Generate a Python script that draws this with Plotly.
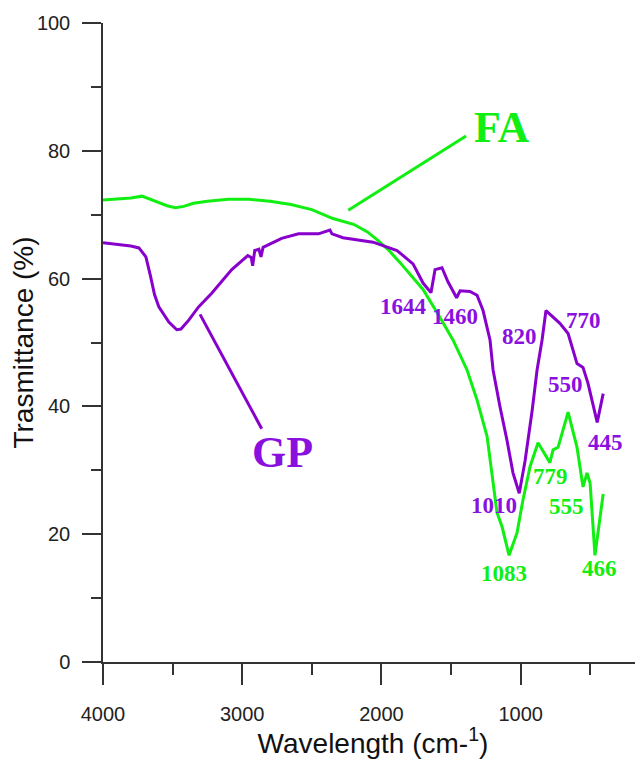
import plotly.graph_objects as go

# ---------------- data ----------------
fa_wn = [4000, 3900, 3800, 3720, 3660, 3600, 3540, 3480, 3420, 3350, 3250, 3100,
         2950, 2800, 2650, 2500, 2348, 2200, 2100, 2032, 1950, 1866, 1701, 1579,
         1486, 1385, 1313, 1241, 1198, 1170, 1134, 1083, 1026, 983, 932, 875, 790,
         767, 731, 659, 595, 552, 523, 501, 466, 407]
fa_t = [72.3, 72.5, 72.6, 72.9, 72.4, 71.9, 71.4, 71.1, 71.3, 71.8, 72.1, 72.4,
        72.4, 72.1, 71.6, 70.8, 69.4, 68.5, 67.3, 66.1, 64.5, 62.5, 58.3, 53.9,
        50.4, 45.7, 41.0, 35.3, 28.6, 23.4, 21.2, 16.7, 20.2, 25.4, 30.6, 34.3, 31.2,
        33.2, 33.6, 39.1, 33.6, 27.4, 29.6, 28.0, 16.7, 26.3]

gp_wn = [4000, 3900, 3800, 3742, 3692, 3660, 3630, 3599, 3527, 3470, 3440, 3384,
         3312, 3219, 3075, 2960, 2935, 2925, 2910, 2880, 2865, 2850, 2717, 2595,
         2452, 2370, 2355, 2276, 2060, 1888, 1773, 1701, 1644, 1615, 1565, 1522,
         1460, 1435, 1364, 1313, 1270, 1220, 1198, 1148, 1098, 1055, 1010, 968,
         917, 882, 846, 818, 775, 718, 659, 595, 552, 516, 450, 407]
gp_t = [65.6, 65.4, 65.1, 64.8, 63.4, 60.5, 57.5, 55.6, 53.2, 52.0, 52.1, 53.5,
        55.6, 57.7, 61.4, 63.6, 63.3, 62.0, 64.4, 64.6, 63.4, 64.9, 66.3, 67.0,
        67.0, 67.6, 67.0, 66.4, 65.7, 64.4, 62.3, 59.3, 57.8, 61.4, 61.7, 59.5,
        57.0, 58.1, 58.0, 57.4, 55.0, 50.4, 45.7, 39.9, 34.7, 29.6, 26.4, 31.5,
        39.4, 45.7, 50.4, 55.0, 54.2, 53.0, 51.4, 46.7, 46.1, 43.6, 37.5, 42.0]

gp_peak_labels = ["1644", "1460", "820", "770", "550", "445", "1010"]
fa_peak_labels = ["779", "555", "1083", "466"]
series_names = ["FA", "GP"]

x_ticks = [4000, 3000, 2000, 1000]
y_ticks = [0, 20, 40, 60, 80, 100]

# ---------------- styling / placement ----------------
GREEN = "#11EE11"
PURPLE = "#8800CC"
PURPLE_TXT = "#8A10E0"
AXIS = "#333333"

gp_label_pos = [(1845, 55.7), (1471, 54.1), (1011, 51.0), (550, 53.5),
                (681, 43.4), (394, 34.4), (1193, 24.5)]
fa_label_pos = [(789, 29.0), (669, 24.3), (1121, 13.9), (430, 14.7)]

fig = go.Figure()
fig.add_trace(go.Scatter(x=fa_wn, y=fa_t, mode="lines", name=series_names[0],
                         line=dict(color=GREEN, width=3)))
fig.add_trace(go.Scatter(x=gp_wn, y=gp_t, mode="lines", name=series_names[1],
                         line=dict(color=PURPLE, width=3)))

ann = []
for txt, (x, y) in zip(gp_peak_labels, gp_label_pos):
    ann.append(dict(x=x, y=y, text="<b>%s</b>" % txt, showarrow=False,
                    font=dict(family="Liberation Serif", size=23, color=PURPLE_TXT),
                    xanchor="center", yanchor="middle"))
for txt, (x, y) in zip(fa_peak_labels, fa_label_pos):
    ann.append(dict(x=x, y=y, text="<b>%s</b>" % txt, showarrow=False,
                    font=dict(family="Liberation Serif", size=23, color=GREEN),
                    xanchor="center", yanchor="middle"))
ann.append(dict(x=1134, y=83.7, text="<b>%s</b>" % series_names[0], showarrow=False,
                font=dict(family="Liberation Serif", size=44, color=GREEN),
                xanchor="center", yanchor="middle"))
ann.append(dict(x=2714, y=32.8, text="<b>%s</b>" % series_names[1], showarrow=False,
                font=dict(family="Liberation Serif", size=44, color=PURPLE_TXT),
                xanchor="center", yanchor="middle"))

shapes = [
    dict(type="line", x0=1392, y0=82.3, x1=2238, y1=70.7,
         line=dict(color=GREEN, width=3)),
    dict(type="line", x0=3303, y0=54.4, x1=2860, y1=36.5,
         line=dict(color=PURPLE, width=3)),
]

# page body adds an 8px offset, so the figure is 8px smaller than the window
fig.update_layout(
    width=635, height=751,
    margin=dict(l=95, r=0, t=15, b=97),
    paper_bgcolor="white", plot_bgcolor="white",
    showlegend=False,
    annotations=ann, shapes=shapes,
    font=dict(family="Liberation Sans", color="#222222"),
)
fig.update_xaxes(
    range=[4000, 121], tickvals=x_ticks, ticktext=[str(v) for v in x_ticks],
    automargin=False,
    showgrid=False, zeroline=False, showline=True, linecolor=AXIS, linewidth=1.5,
    ticks="outside", ticklen=21, tickwidth=1.5, tickcolor=AXIS,
    tickfont=dict(size=20, family="Liberation Sans", color="#222222"),
    ticklabelstandoff=12,
    minor=dict(dtick=500, ticklen=11, ticks="outside", tickcolor=AXIS, tickwidth=1.5, showgrid=False),
    title=dict(text="Wavelength (cm-<sup>1</sup>)", standoff=8,
               font=dict(size=28, family="Liberation Sans", color="#111111")),
)
fig.update_yaxes(
    range=[0, 100], tickvals=y_ticks,
    automargin=False,
    showgrid=False, zeroline=False, showline=True, linecolor=AXIS, linewidth=1.5,
    ticks="outside", ticklen=19, tickwidth=1.5, tickcolor=AXIS,
    tickfont=dict(size=20, family="Liberation Sans", color="#222222"),
    ticklabelstandoff=8,
    minor=dict(dtick=10, ticklen=10, ticks="outside", tickcolor=AXIS, tickwidth=1.5, showgrid=False),
    title=dict(text="Trasmittance (%)", standoff=10,
               font=dict(size=28, family="Liberation Sans", color="#111111")),
)

fig.write_html("out.html")
